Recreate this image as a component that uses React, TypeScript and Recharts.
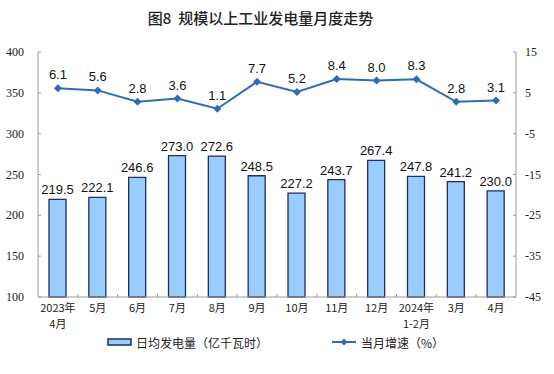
import React from "react"
import {
  ComposedChart,
  Bar,
  Line,
  XAxis,
  YAxis,
  Legend,
  LabelList,
} from "recharts"

const months = [
  "2023年\n4月",
  "5月",
  "6月",
  "7月",
  "8月",
  "9月",
  "10月",
  "11月",
  "12月",
  "2024年\n1-2月",
  "3月",
  "4月",
]
const dailyOutput = [219.5, 222.1, 246.6, 273.0, 272.6, 248.5, 227.2, 243.7, 267.4, 247.8, 241.2, 230.0]
const growth = [6.1, 5.6, 2.8, 3.6, 1.1, 7.7, 5.2, 8.4, 8.0, 8.3, 2.8, 3.1]
const leftTicks = [100, 150, 200, 250, 300, 350, 400]
const rightTicks = [-45, -35, -25, -15, -5, 5, 15]

const BAR_FILL = "#99CCFF"
const BAR_STROKE = "#1F2F5A"
const LINE_COLOR = "#2E6DB4"
const AXIS = "#9a9a9a"

const data = months.map((m, i) => ({
  month: m,
  output: dailyOutput[i],
  growth: growth[i],
}))

// eslint-disable-next-line @typescript-eslint/no-explicit-any
function MonthTick(props: any) {
  const { x, y, payload, index, visibleTicksCount, width } = props
  const band = (width || 478) / (visibleTicksCount || 12)
  const lines = String(payload.value).split("\n")
  return (
    <g>
      {index > 0 && (
        <line x1={x - band / 2} x2={x - band / 2} y1={y} y2={y - 3} stroke={AXIS} />
      )}
      {lines.map((l, i) => (
        <text
          key={i}
          x={x}
          y={y + 15 + i * 16}
          textAnchor="middle"
          fontSize={11}
          fontFamily="'Noto Sans CJK SC', sans-serif"
          fill="#222"
        >
          {l}
        </text>
      ))}
    </g>
  )
}

// eslint-disable-next-line @typescript-eslint/no-explicit-any
function LeftTick({ x, y, payload }: any) {
  return (
    <g>
      <line x1={x} x2={x + 3} y1={y} y2={y} stroke={AXIS} />
      <text x={x - 14} y={y} dy={4} textAnchor="end" fontSize={12} fontFamily="'Liberation Serif', serif" fill="#222">
        {payload.value}
      </text>
    </g>
  )
}

// eslint-disable-next-line @typescript-eslint/no-explicit-any
function RightTick({ x, y, payload }: any) {
  return (
    <g>
      <line x1={x} x2={x - 3} y1={y} y2={y} stroke={AXIS} />
      <text x={x + 9} y={y} dy={4} textAnchor="start" fontSize={12} fontFamily="'Liberation Serif', serif" fill="#222">
        {payload.value}
      </text>
    </g>
  )
}

function LegendContent() {
  const font = "'Noto Sans CJK SC', sans-serif"
  return (
    <div style={{ display: "flex", alignItems: "center", height: 30, paddingLeft: 107, fontFamily: font, fontSize: 12, color: "#222" }}>
      <svg width={26} height={10} style={{ marginRight: 3 }}>
        <rect x={1} y={2} width={23} height={6} fill={BAR_FILL} stroke={BAR_STROKE} strokeWidth={1.5} />
      </svg>
      <span>日均发电量（亿千瓦时）</span>
      <svg width={26} height={10} style={{ marginLeft: 64, marginRight: 3 }}>
        <line x1={0} x2={24} y1={5} y2={5} stroke={LINE_COLOR} strokeWidth={2} />
        <path d="M12 1.5 L15.5 5 L12 8.5 L8.5 5 Z" fill={LINE_COLOR} />
      </svg>
      <span>当月增速（%）</span>
    </div>
  )
}

// eslint-disable-next-line @typescript-eslint/no-explicit-any
function Diamond({ cx, cy }: any) {
  if (cx == null || cy == null) return null
  return <path d={`M${cx} ${cy - 4} L${cx + 4} ${cy} L${cx} ${cy + 4} L${cx - 4} ${cy} Z`} fill={LINE_COLOR} />
}

export default function App() {
  return (
    <div style={{ position: "absolute", left: 0, top: 0, width: 554, height: 374, background: "#fff" }}>
      <div
        style={{
          position: "absolute",
          left: 0,
          top: 8,
          width: 521,
          textAlign: "center",
          fontFamily: "'Noto Sans CJK SC', sans-serif",
          fontSize: 15,
          fontWeight: 500,
          color: "#222",
          lineHeight: "20px",
        }}
      >
        图8&nbsp;&nbsp;规模以上工业发电量月度走势
      </div>
      <ComposedChart width={554} height={374} data={data} margin={{ top: 52, right: 0, left: 0, bottom: 17 }}>
        <XAxis
          dataKey="month"
          interval={0}
          tickSize={0}
          tickMargin={0}
          height={30}
          stroke={AXIS}
          tick={<MonthTick />}
        />
        <YAxis
          yAxisId="left"
          domain={[100, 400]}
          ticks={leftTicks}
          width={38}
          tickSize={0}
          tickMargin={0}
          stroke={AXIS}
          tick={<LeftTick />}
        />
        <YAxis
          yAxisId="right"
          orientation="right"
          domain={[-45, 15]}
          ticks={rightTicks}
          width={38}
          tickSize={0}
          tickMargin={0}
          stroke={AXIS}
          tick={<RightTick />}
        />
        <Legend verticalAlign="bottom" content={<LegendContent />} />
        <Bar
          yAxisId="left"
          dataKey="output"
          barSize={17}
          fill={BAR_FILL}
          stroke={BAR_STROKE}
          strokeWidth={1.3}
          isAnimationActive={false}
        >
          <LabelList
            dataKey="output"
            position="top"
            offset={5}
            formatter={(v: number) => v.toFixed(1)}
            style={{ fontSize: 13, fontFamily: "'Liberation Sans', Arial, sans-serif", fill: "#111" }}
          />
        </Bar>
        <Line
          yAxisId="right"
          dataKey="growth"
          stroke={LINE_COLOR}
          strokeWidth={2}
          dot={<Diamond />}
          activeDot={false}
          isAnimationActive={false}
        >
          <LabelList
            dataKey="growth"
            position="top"
            offset={9}
            formatter={(v: number) => v.toFixed(1)}
            style={{ fontSize: 13, fontFamily: "'Liberation Sans', Arial, sans-serif", fill: "#111" }}
          />
        </Line>
      </ComposedChart>
    </div>
  )
}
